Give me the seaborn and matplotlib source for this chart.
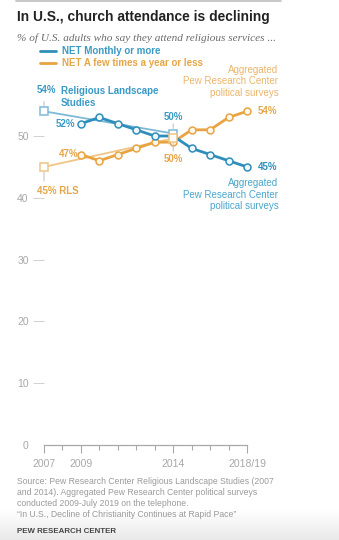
import numpy as np
import pandas as pd
import matplotlib
matplotlib.use("Agg")
import matplotlib.pyplot as plt
import seaborn as sns

# --- data -----------------------------------------------------------------
years_agg = [2009, 2010, 2011, 2012, 2013, 2014, 2015, 2016, 2017, 2018]
monthly_agg = [52, 53, 52, 51, 50, 50, 48, 47, 46, 45]
fewer_agg = [47, 46, 47, 48, 49, 49, 51, 51, 53, 54]

years_rls = [2007, 2014]
monthly_rls = [54, 50.4]
fewer_rls = [45, 49.6]

y_ticks = [0, 10, 20, 30, 40, 50]
x_major = [2007, 2009, 2014, 2018]
x_major_labels = ["2007", "2009", "2014", "2018/19"]
x_minor = list(range(2007, 2019))

title = "In U.S., church attendance is declining"
subtitle = "% of U.S. adults who say they attend religious services ..."
legend_labels = ["NET Monthly or more", "NET A few times a year or less"]
source_lines = [
    "Source: Pew Research Center Religious Landscape Studies (2007",
    "and 2014). Aggregated Pew Research Center political surveys",
    "conducted 2009-July 2019 on the telephone.",
    "\u201cIn U.S., Decline of Christianity Continues at Rapid Pace\u201d",
]
credit = "PEW RESEARCH CENTER"
agg_note = "Aggregated\nPew Research Center\npolitical surveys"

# --- style ----------------------------------------------------------------
BLUE = "#2f8fbb"
BLUE_LIGHT = "#7db9d6"
BLUE_TEXT = "#3a9ac4"
BLUE_NOTE = "#4aa6cc"
ORANGE = "#e8a440"
ORANGE_LIGHT = "#f0c585"
ORANGE_TEXT = "#e5a648"
ORANGE_NOTE = "#eab56c"
GRAY = "#a8a8a8"

sns.set_style("white")
plt.rcParams["font.family"] = ["Liberation Sans", "DejaVu Sans"]

W, H = 339, 540
fig = plt.figure(figsize=(W / 100, H / 100), dpi=100)


def fx(x):
    return x / W


def fy(y):
    return 1 - y / H


# soft grey band along the bottom edge
grad_ax = fig.add_axes([0, 0, 1, 30 / H], zorder=-5)
grad = np.linspace(0, 1, 64).reshape(-1, 1)
grad_ax.imshow(grad, aspect="auto", cmap=matplotlib.colors.LinearSegmentedColormap.from_list(
    "fade", ["#e9e9e9", "#ffffff"]), extent=[0, 1, 0, 1], origin="lower")
grad_ax.set_axis_off()

# plot area: 2007..2018 across, 0..56 up
x0_px, x1_px = 44, 247
y0_px, px_per_unit = 445, 6.18
y_top = 56
ax = fig.add_axes([fx(x0_px), (H - y0_px) / H, (x1_px - x0_px) / W,
                   y_top * px_per_unit / H])
ax.set_xlim(2007, 2018)
ax.set_ylim(0, y_top)
ax.patch.set_alpha(0)

# Religious Landscape Studies: thin light connecting lines
sns.lineplot(x=years_rls, y=monthly_rls, color=BLUE_LIGHT, lw=1.3, ax=ax,
             zorder=2, clip_on=False)
sns.lineplot(x=years_rls, y=fewer_rls, color=ORANGE_LIGHT, lw=1.3, ax=ax,
             zorder=2, clip_on=False)

# aggregated political surveys
sns.lineplot(x=years_agg, y=fewer_agg, color=ORANGE, lw=2.0, marker="o",
             markersize=5, markerfacecolor="#fdf7ee", markeredgecolor=ORANGE,
             markeredgewidth=1.1, ax=ax, zorder=3, clip_on=False)
sns.lineplot(x=years_agg, y=monthly_agg, color=BLUE, lw=2.0, marker="o",
             markersize=5, markerfacecolor="#f1f8fb", markeredgecolor=BLUE,
             markeredgewidth=1.1, ax=ax, zorder=4, clip_on=False)

# RLS square markers on top
ax.plot(years_rls, monthly_rls, ls="none", marker="s", markersize=6,
        markerfacecolor="white", markeredgecolor=BLUE_LIGHT,
        markeredgewidth=1.1, zorder=6, clip_on=False)
ax.plot(years_rls, fewer_rls, ls="none", marker="s", markersize=6,
        markerfacecolor="white", markeredgecolor=ORANGE_LIGHT,
        markeredgewidth=1.1, zorder=6, clip_on=False)

# axes styling
for side in ["top", "right", "left"]:
    ax.spines[side].set_visible(False)
ax.spines["bottom"].set_color(GRAY)
ax.spines["bottom"].set_linewidth(0.9)

ax.set_yticks(y_ticks)
ax.set_yticklabels([str(t) for t in y_ticks])
ax.tick_params(axis="y", left=True, length=8, width=0.7, color="#d0d0d0",
               pad=3, labelsize=7.5, labelcolor=GRAY, direction="out")
ax.yaxis.get_major_ticks()[0].tick1line.set_visible(False)

ax.set_xticks(x_major)
ax.set_xticklabels(x_major_labels)
ax.set_xticks(x_minor, minor=True)
ax.tick_params(axis="x", which="major", bottom=True, length=6, width=0.8,
               color=GRAY, pad=4, labelsize=7.5, labelcolor=GRAY,
               direction="out")
ax.tick_params(axis="x", which="minor", bottom=True, length=3.5, width=0.8,
               color=GRAY, direction="out")
ax.set_xlabel("")
ax.set_ylabel("")
ax.grid(False)

# --- point labels -----------------------------------------------------------
lab = dict(fontsize=7, fontweight="bold")
conn = dict(arrowstyle="-", color="#bdbdbd", lw=0.7, shrinkA=0, shrinkB=0)


def pct(v):
    return f"{round(v)}%"


# RLS 2007 monthly
ax.annotate("", xy=(years_rls[0], monthly_rls[0]), xytext=(0, 7),
            textcoords="offset points", xycoords="data",
            arrowprops=dict(conn, shrinkB=3.5), annotation_clip=False)
ax.annotate(pct(monthly_rls[0]), xy=(years_rls[0], monthly_rls[0]),
            xytext=(-5, 15), textcoords="offset points", ha="left", va="center",
            color=BLUE_TEXT, annotation_clip=False, **lab)
ax.annotate("Religious Landscape\nStudies", xy=(years_rls[0], monthly_rls[0]),
            xytext=(12, 10.3), textcoords="offset points", ha="left",
            va="center", color=BLUE_TEXT, linespacing=1.3,
            annotation_clip=False, **lab)

# RLS 2007 fewer
ax.annotate("", xy=(years_rls[0], fewer_rls[0]), xytext=(0, -10),
            textcoords="offset points",
            arrowprops=dict(conn, shrinkB=3.5), annotation_clip=False)
ax.annotate(pct(fewer_rls[0]) + " RLS", xy=(years_rls[0], fewer_rls[0]),
            xytext=(-5, -17.5), textcoords="offset points", ha="left",
            va="center", color=ORANGE_TEXT, annotation_clip=False, **lab)

# RLS 2014
ax.annotate("", xy=(years_rls[1], monthly_rls[1]), xytext=(0, 7),
            textcoords="offset points",
            arrowprops=dict(conn, shrinkB=3.5), annotation_clip=False)
ax.annotate(pct(monthly_rls[1]), xy=(years_rls[1], monthly_rls[1]),
            xytext=(0, 12), textcoords="offset points", ha="center",
            va="center", color=BLUE_TEXT, annotation_clip=False, **lab)
ax.annotate("", xy=(years_rls[1], fewer_rls[1]), xytext=(0, -9),
            textcoords="offset points",
            arrowprops=dict(conn, shrinkB=3.5), annotation_clip=False)
ax.annotate(pct(fewer_rls[1]), xy=(years_rls[1], fewer_rls[1]),
            xytext=(0, -15), textcoords="offset points", ha="center",
            va="center", color=ORANGE_TEXT, annotation_clip=False, **lab)

# aggregated first/last values
ax.annotate(pct(monthly_agg[0]), xy=(years_agg[0], monthly_agg[0]),
            xytext=(-4, 0), textcoords="offset points", ha="right",
            va="center", color=BLUE_TEXT, annotation_clip=False, **lab)
ax.annotate(pct(fewer_agg[0]), xy=(years_agg[0], fewer_agg[0]),
            xytext=(-2, 0.5), textcoords="offset points", ha="right",
            va="center", color=ORANGE_TEXT, annotation_clip=False, **lab)
ax.annotate(pct(monthly_agg[-1]), xy=(years_agg[-1], monthly_agg[-1]),
            xytext=(7.5, 0), textcoords="offset points", ha="left",
            va="center", color=BLUE, annotation_clip=False, **lab)
ax.annotate(pct(fewer_agg[-1]), xy=(years_agg[-1], fewer_agg[-1]),
            xytext=(7.5, 0), textcoords="offset points", ha="left",
            va="center", color=ORANGE_TEXT, annotation_clip=False, **lab)

# series notes
ax.annotate(agg_note, xy=(years_agg[-1], monthly_agg[-1]),
            xytext=(22.5, -20), textcoords="offset points", ha="right",
            va="center", color=BLUE_NOTE, fontsize=7, linespacing=1.2,
            annotation_clip=False)
ax.annotate(agg_note, xy=(years_agg[-1], fewer_agg[-1]),
            xytext=(22.5, 21.5), textcoords="offset points", ha="right",
            va="center", color=ORANGE_NOTE, fontsize=7, linespacing=1.2,
            annotation_clip=False)

# --- header ---------------------------------------------------------------
fig.add_artist(plt.Line2D([fx(16), fx(281)], [fy(1.2), fy(1.2)],
                          color="#bdbdbd", lw=1.2))
fig.text(fx(17), fy(17), title, fontsize=9.9, fontweight="bold",
         color="#222222", ha="left", va="center")
fig.text(fx(17), fy(38), subtitle, fontsize=8.1, style="italic",
         family=["Liberation Serif", "DejaVu Serif"], color="#6b6b6b",
         ha="left", va="center")

for i, (txt, col) in enumerate(zip(legend_labels, [BLUE, ORANGE])):
    yy = 51 + 12 * i
    fig.add_artist(plt.Line2D([fx(40), fx(56)], [fy(yy), fy(yy)],
                              color=col, lw=2.0))
    fig.text(fx(62), fy(yy), txt, fontsize=7, fontweight="bold",
             color=BLUE_TEXT if i == 0 else ORANGE_TEXT,
             ha="left", va="center")

# --- footer ---------------------------------------------------------------
for i, line in enumerate(source_lines):
    fig.text(fx(17), fy(481.5 + 11 * i), line, fontsize=6.2, color="#9a9a9a",
             ha="left", va="center")
fig.text(fx(17), fy(531.5), credit, fontsize=5.7, fontweight="bold",
         color="#444444", ha="left", va="center")

fig.savefig("out.png", dpi=100)
